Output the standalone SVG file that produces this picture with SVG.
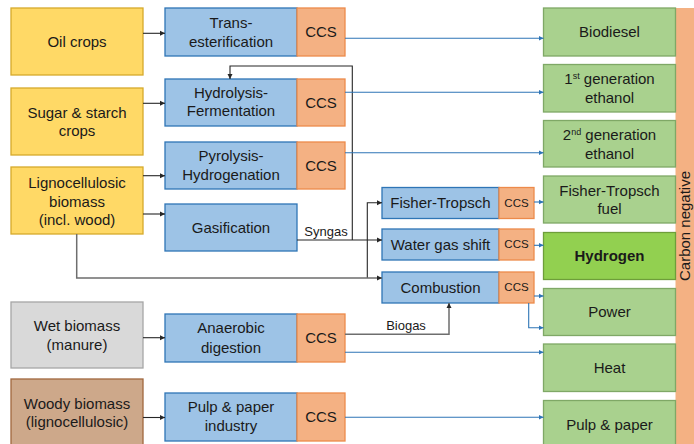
<svg xmlns="http://www.w3.org/2000/svg" width="694" height="444" viewBox="0 0 694 444">
<defs>
<marker id="ak" markerWidth="6" markerHeight="6" refX="5" refY="3" orient="auto" markerUnits="userSpaceOnUse"><path d="M0,0.5 L5,3 L0,5.5 Z" fill="#262626"/></marker>
<marker id="ab" markerWidth="6" markerHeight="6" refX="5" refY="3" orient="auto" markerUnits="userSpaceOnUse"><path d="M0,0.5 L5,3 L0,5.5 Z" fill="#2E75B6"/></marker>
</defs>
<style>
text{font-family:"Liberation Sans",Arial,sans-serif;font-size:15px;fill:#1a1a1a;text-anchor:middle}
.y{fill:#FFD966;stroke:#D6AA2B;stroke-width:1.3}
.b{fill:#9DC3E6;stroke:#2E75B6;stroke-width:1.3}
.c{fill:#F4B183;stroke:#ED8A4A;stroke-width:1.3}
.g{fill:#A9D18E;stroke:#7FA866;stroke-width:1.3}
.h{fill:#92D050;stroke:#6E9E3A;stroke-width:1.3}
.w{fill:#D9D9D9;stroke:#A6A6A6;stroke-width:1.3}
.d{fill:#CDA88A;stroke:#A0673E;stroke-width:1.3}
.s{font-size:11.5px}
.k{fill:none;stroke:#262626;stroke-width:1.1}
.k2{fill:none;stroke:#6e6e6e;stroke-width:1.5}
.bl{fill:none;stroke:#2E75B6;stroke-width:1.1}
.lab{font-size:13px}
</style>

<g id="carbon-negative"><rect x="675.5" y="8" width="19" height="437" fill="#F4B183"/><text x="0" y="0" transform="translate(689.5,226) rotate(-90)">Carbon negative</text></g>

<g id="oil-crops"><rect class="y" x="11" y="8" width="132" height="67"/><text x="77" y="47">Oil crops</text></g>
<g id="sugar-starch"><rect class="y" x="11" y="88" width="132" height="67"/><text x="77" y="118">Sugar &amp; starch</text><text x="77" y="136">crops</text></g>
<g id="lignocellulosic"><rect class="y" x="11" y="167" width="132" height="67"/><text x="77" y="188">Lignocellulosic</text><text x="77" y="207">biomass</text><text x="77" y="225">(incl. wood)</text></g>
<g id="wet-biomass"><rect class="w" x="11" y="302" width="132" height="66"/><text x="77" y="331">Wet biomass</text><text x="77" y="350">(manure)</text></g>
<g id="woody-biomass"><rect class="d" x="11" y="379" width="132" height="70"/><text x="77" y="409">Woody biomass</text><text x="77" y="427">(lignocellulosic)</text></g>

<g id="transesterification"><rect class="b" x="165" y="8" width="132" height="48"/><text x="231" y="28">Trans-</text><text x="231" y="47">esterification</text><rect class="c" x="297" y="8" width="48" height="48"/><text x="321" y="37">CCS</text></g>
<g id="hydrolysis"><rect class="b" x="165" y="79" width="132" height="47"/><text x="231" y="98">Hydrolysis-</text><text x="231" y="116">Fermentation</text><rect class="c" x="297" y="79" width="48" height="47"/><text x="321" y="108">CCS</text></g>
<g id="pyrolysis"><rect class="b" x="165" y="142" width="132" height="47"/><text x="231" y="161">Pyrolysis-</text><text x="231" y="180">Hydrogenation</text><rect class="c" x="297" y="142" width="48" height="47"/><text x="321" y="171">CCS</text></g>
<g id="gasification"><rect class="b" x="165" y="204" width="132" height="47"/><text x="231" y="233">Gasification</text></g>
<g id="anaerobic"><rect class="b" x="165" y="314" width="132" height="48"/><text x="231" y="333">Anaerobic</text><text x="231" y="353">digestion</text><rect class="c" x="297" y="314" width="48" height="48"/><text x="321" y="343">CCS</text></g>
<g id="pulp-industry"><rect class="b" x="165" y="393" width="132" height="48"/><text x="231" y="412">Pulp &amp; paper</text><text x="231" y="431">industry</text><rect class="c" x="297" y="393" width="48" height="48"/><text x="321" y="422">CCS</text></g>

<g id="fisher-tropsch"><rect class="b" x="382" y="187.5" width="117" height="31"/><text x="440.5" y="208">Fisher-Tropsch</text><rect class="c" x="499" y="187.5" width="35" height="31"/><text class="s" x="516.5" y="207">CCS</text></g>
<g id="water-gas-shift"><rect class="b" x="382" y="229" width="117" height="31"/><text x="440.5" y="250">Water gas shift</text><rect class="c" x="499" y="229" width="35" height="31"/><text class="s" x="516.5" y="248">CCS</text></g>
<g id="combustion"><rect class="b" x="382" y="272" width="117" height="31"/><text x="440.5" y="293">Combustion</text><rect class="c" x="499" y="272" width="35" height="31"/><text class="s" x="516.5" y="291">CCS</text></g>

<g id="biodiesel"><rect class="g" x="543.5" y="8" width="132" height="48"/><text x="609.5" y="37">Biodiesel</text></g>
<g id="ethanol-1"><rect class="g" x="543.5" y="64.5" width="132" height="47.5"/><text x="609.5" y="84">1<tspan font-size="9" dy="-5">st</tspan><tspan dy="5"> generation</tspan></text><text x="609.5" y="103">ethanol</text></g>
<g id="ethanol-2"><rect class="g" x="543.5" y="120.5" width="132" height="46.5"/><text x="609.5" y="140">2<tspan font-size="9" dy="-5">nd</tspan><tspan dy="5"> generation</tspan></text><text x="609.5" y="159">ethanol</text></g>
<g id="ft-fuel"><rect class="g" x="543.5" y="176" width="132" height="47"/><text x="609.5" y="196">Fisher-Tropsch</text><text x="609.5" y="214">fuel</text></g>
<g id="hydrogen"><rect class="h" x="543.5" y="232.5" width="132" height="47"/><text x="609.5" y="261" font-weight="bold">Hydrogen</text></g>
<g id="power"><rect class="g" x="543.5" y="288.5" width="132" height="47"/><text x="609.5" y="317">Power</text></g>
<g id="heat"><rect class="g" x="543.5" y="344" width="132" height="47.5"/><text x="609.5" y="373">Heat</text></g>
<g id="pulp-paper"><rect class="g" x="543.5" y="400.5" width="132" height="48"/><text x="609.5" y="430">Pulp &amp; paper</text></g>

<g id="connectors">
<path class="k" d="M143,33.3 H165" marker-end="url(#ak)"/>
<path class="k" d="M143,103.3 H165" marker-end="url(#ak)"/>
<path class="k" d="M143,175.7 H165" marker-end="url(#ak)"/>
<path class="k" d="M143,214 H165" marker-end="url(#ak)"/>
<path class="k" d="M143,337.7 H165" marker-end="url(#ak)"/>
<path class="k" d="M143,417.5 H165" marker-end="url(#ak)"/>
<path class="k" d="M297,240 H382" marker-end="url(#ak)"/>
<path class="k" d="M352.3,240 V66 H230 V79" marker-end="url(#ak)"/>
<path class="k" d="M367.3,278 V202.7 H382" marker-end="url(#ak)"/>
<path class="k2" d="M76.7,234 V278 H382" marker-end="url(#ak)"/>
<path class="k2" d="M345,334.3 H449 V303" marker-end="url(#ak)"/>
<path class="bl" d="M345,38.3 H543.5" marker-end="url(#ab)"/>
<path class="bl" d="M345,92.3 H543.5" marker-end="url(#ab)"/>
<path class="bl" d="M345,152.7 H543.5" marker-end="url(#ab)"/>
<path class="bl" d="M345,352.3 H543.5" marker-end="url(#ab)"/>
<path class="bl" d="M345,417.3 H543.5" marker-end="url(#ab)"/>
<path class="bl" d="M534,202 H543.5" marker-end="url(#ab)"/>
<path class="bl" d="M534,245.3 H543.5" marker-end="url(#ab)"/>
<path class="bl" d="M534,296 H543.5" marker-end="url(#ab)"/>
<path class="bl" d="M528.7,303 V327.7 H543.5" marker-end="url(#ab)"/>
<text class="lab" x="326" y="236">Syngas</text>
<text class="lab" x="406" y="330">Biogas</text>
</g>
</svg>
